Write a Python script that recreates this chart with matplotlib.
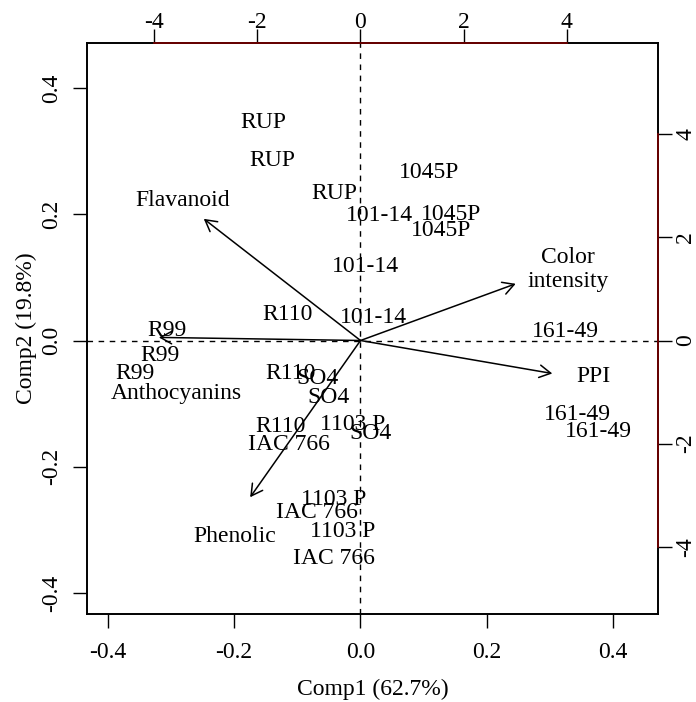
import matplotlib
matplotlib.use("Agg")
import matplotlib.pyplot as plt
import numpy as np

plt.rcParams['font.family'] = ['Liberation Serif', 'DejaVu Serif']
plt.rcParams['axes.unicode_minus'] = False

# ---- observation scores (Comp1, Comp2) ----
obs_labels = ["RUP", "RUP", "RUP",
              "1045P", "1045P", "1045P",
              "101-14", "101-14", "101-14",
              "R110", "R110", "R110",
              "R99", "R99", "R99",
              "SO4", "SO4", "SO4",
              "1103 P", "1103 P", "1103 P",
              "IAC 766", "IAC 766", "IAC 766",
              "161-49", "161-49", "161-49"]
comp1 = [-0.153, -0.139, -0.042,
         0.108, 0.143, 0.127,
         0.030, 0.008, 0.020,
         -0.1155, -0.110, -0.127,
         -0.306, -0.317, -0.357,
         -0.068, -0.050, 0.016,
         -0.013, -0.042, -0.028,
         -0.114, -0.069, -0.042,
         0.325, 0.344, 0.376]
comp2 = [0.345, 0.285, 0.232,
         0.266, 0.199, 0.174,
         0.198, 0.117, 0.036,
         0.041, -0.053, -0.136,
         0.016, -0.024, -0.052,
         -0.060, -0.091, -0.148,
         -0.133, -0.252, -0.302,
         -0.165, -0.272, -0.345,
         0.014, -0.117, -0.144]

# ---- variable loadings (secondary scale) ----
var_labels = ["Flavanoid", "Color\nintensity", "PPI", "Anthocyanins", "Phenolic"]
arrow_x = [-3.04, 3.01, 3.72, -3.91, -2.14]
arrow_y = [2.36, 1.10, -0.64, 0.06, -3.04]
varlab_x = [-3.44, 4.03, 4.51, -3.58, -2.44]
varlab_y = [2.72, 1.38, -0.70, -1.02, -3.81]

xlab = "Comp1 (62.7%)"
ylab = "Comp2 (19.8%)"
prim_ticks = [-0.4, -0.2, 0.0, 0.2, 0.4]
sec_ticks = [-4, -2, 0, 2, 4]

lim = (-0.433, 0.471)
ratio = 12.25
FS = 17

fig = plt.figure(figsize=(6.96, 7.02), dpi=100)
pos = [87/696, 1 - 614/702, (658-87)/696, (614-43)/702]
ax = fig.add_axes(pos)
ax.set_xlim(lim)
ax.set_ylim(lim)
for s in ax.spines.values():
    s.set_linewidth(1.4)
    s.set_color('black')

ax.set_xticks(prim_ticks)
ax.set_yticks(prim_ticks)
ax.set_xticklabels(["%.1f" % t for t in prim_ticks])
ax.set_yticklabels(["%.1f" % t for t in prim_ticks], rotation=90, va='center')
ax.tick_params(axis='x', direction='out', length=10, width=1, labelsize=FS, pad=10)
ax.tick_params(axis='y', direction='out', length=10, width=1, labelsize=FS, pad=8)
ax.set_xlabel(xlab, fontsize=FS, labelpad=11.5)
ax.set_ylabel(ylab, fontsize=FS, labelpad=3)

ax.axhline(0, color='black', lw=1.0, ls=(0, (4, 4)))
ax.axvline(0, color='black', lw=1.0, ls=(0, (4, 4)))

for lab, x, y in zip(obs_labels, comp1, comp2):
    ax.text(x, y, lab, ha='center', va='center', fontsize=FS)

# secondary axes (top/right) for loadings
ax2 = fig.add_axes(pos, frameon=True)
ax2.patch.set_alpha(0)
ax2.set_xlim(lim[0]*ratio, lim[1]*ratio)
ax2.set_ylim(lim[0]*ratio, lim[1]*ratio)
for name, s in ax2.spines.items():
    if name in ('top', 'right'):
        s.set_bounds(sec_ticks[0], sec_ticks[-1])
        s.set_color('#7a0000')
        s.set_linewidth(1.2)
    else:
        s.set_visible(False)
ax2.xaxis.set_ticks_position('top')
ax2.yaxis.set_ticks_position('right')
ax2.xaxis.set_label_position('top')
ax2.set_xticks(sec_ticks)
ax2.set_yticks(sec_ticks)
ax2.set_xticklabels([str(t) for t in sec_ticks])
ax2.set_yticklabels([str(t) for t in sec_ticks], rotation=90, va='center')
ax2.tick_params(axis='x', direction='out', length=10, width=1, labelsize=FS, pad=-3, color='black')
ax2.tick_params(axis='y', direction='out', length=10, width=1, labelsize=FS, pad=2.5, color='black')

for x, y in zip(arrow_x, arrow_y):
    ax2.annotate('', xy=(x, y), xytext=(0, 0),
                 arrowprops=dict(arrowstyle='->,head_length=0.45,head_width=0.25',
                                 mutation_scale=18, lw=1.1, color='black',
                                 shrinkA=0, shrinkB=0))
for lab, x, y in zip(var_labels, varlab_x, varlab_y):
    ax2.text(x, y, lab, ha='center', va='center', fontsize=FS, linespacing=1.2)

fig.savefig("out.png", dpi=100)
